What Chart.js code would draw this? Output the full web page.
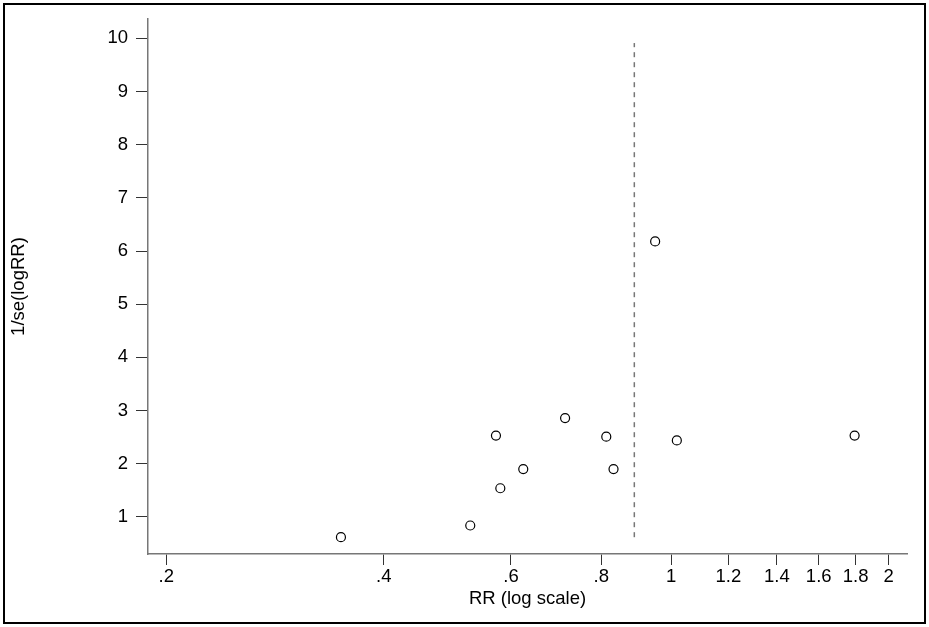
<!DOCTYPE html>
<html>
<head>
<meta charset="utf-8">
<script src="https://cdn.jsdelivr.net/npm/chart.js@4"></script>
<style>
  body { margin: 0; background: #fff; }
  #wrap { position: relative; width: 929px; height: 627px; }
  #marco { position: absolute; left: 3px; top: 3px; width: 919px; height: 617px; border: 2px solid #000; pointer-events: none; }
</style>
</head>
<body>
<div id="wrap">
  <canvas id="grafico" width="929" height="627"></canvas>
  <div id="marco"></div>
</div>
<script>
// Datos del funnel plot (RR en escala log, precision 1/se)
const rr = [0.349, 0.527, 0.572, 0.580, 0.624, 0.713, 0.813, 0.832, 0.950, 1.018, 1.794];
const precision = [0.62, 0.84, 2.53, 1.54, 1.90, 2.86, 2.51, 1.90, 6.18, 2.44, 2.53];

// Linea vertical del efecto combinado
const rrCombinado = 0.889;
const lineaY = [0.62, 9.91];

// Ticks de los ejes
const xTicks = [0.2, 0.4, 0.6, 0.8, 1, 1.2, 1.4, 1.6, 1.8, 2];
const xTickLabels = ['.2', '.4', '.6', '.8', '1', '1.2', '1.4', '1.6', '1.8', '2'];
const yTicks = [1, 2, 3, 4, 5, 6, 7, 8, 9, 10];

const fuente = { family: '"Liberation Sans", Arial, sans-serif', size: 18.5 };

const ctx = document.getElementById('grafico').getContext('2d');
new Chart(ctx, {
    type: 'scatter',
    data: {
        datasets: [{
            label: 'estudios',
            data: rr.map((v, i) => ({ x: v, y: precision[i] })),
            pointStyle: 'circle',
            pointRadius: 4.5,
            pointBorderWidth: 1.2,
            borderColor: '#000',
            backgroundColor: 'rgba(255,255,255,0)'
        }, {
            label: 'combinado',
            data: lineaY.map(y => ({ x: rrCombinado, y: y })),
            showLine: true,
            pointRadius: 0,
            borderColor: '#777',
            borderWidth: 1.5,
            borderDash: [5, 5]
        }]
    },
    options: {
        responsive: false,
        animation: false,
        layout: { padding: { top: 19, right: 22, left: 0, bottom: 0 } },
        plugins: { legend: { display: false }, tooltip: { enabled: false } },
        scales: {
            x: {
                type: 'logarithmic',
                min: 0.1887,
                max: 2.12,
                afterBuildTicks: axis => { axis.ticks = xTicks.map(v => ({ value: v })); },
                afterFit: axis => { axis.height = 73; },
                ticks: {
                    color: '#000',
                    font: fuente,
                    padding: 1,
                    maxRotation: 0,
                    autoSkip: false,
                    callback: (v) => xTickLabels[xTicks.indexOf(v)] ?? ''
                },
                grid: { drawOnChartArea: false, drawTicks: true, tickLength: 11, color: '#333', lineWidth: 1 },
                border: { display: true, color: '#777', width: 1.5 },
                title: { display: true, text: 'RR (log scale)', color: '#000', font: fuente, padding: { top: 0, bottom: 17 } }
            },
            y: {
                type: 'linear',
                min: 0.304,
                max: 10.36,
                afterBuildTicks: axis => { axis.ticks = yTicks.map(v => ({ value: v })); },
                afterFit: axis => { axis.width = 148; },
                ticks: { color: '#000', font: fuente, padding: 8 },
                grid: { drawOnChartArea: false, drawTicks: true, tickLength: 12, color: '#333', lineWidth: 1 },
                border: { display: true, color: '#777', width: 1.5 },
                title: { display: true, text: '1/se(logRR)', color: '#000', font: fuente, padding: { top: 8, bottom: 0 } }
            }
        }
    }
});
</script>
</body>
</html>
